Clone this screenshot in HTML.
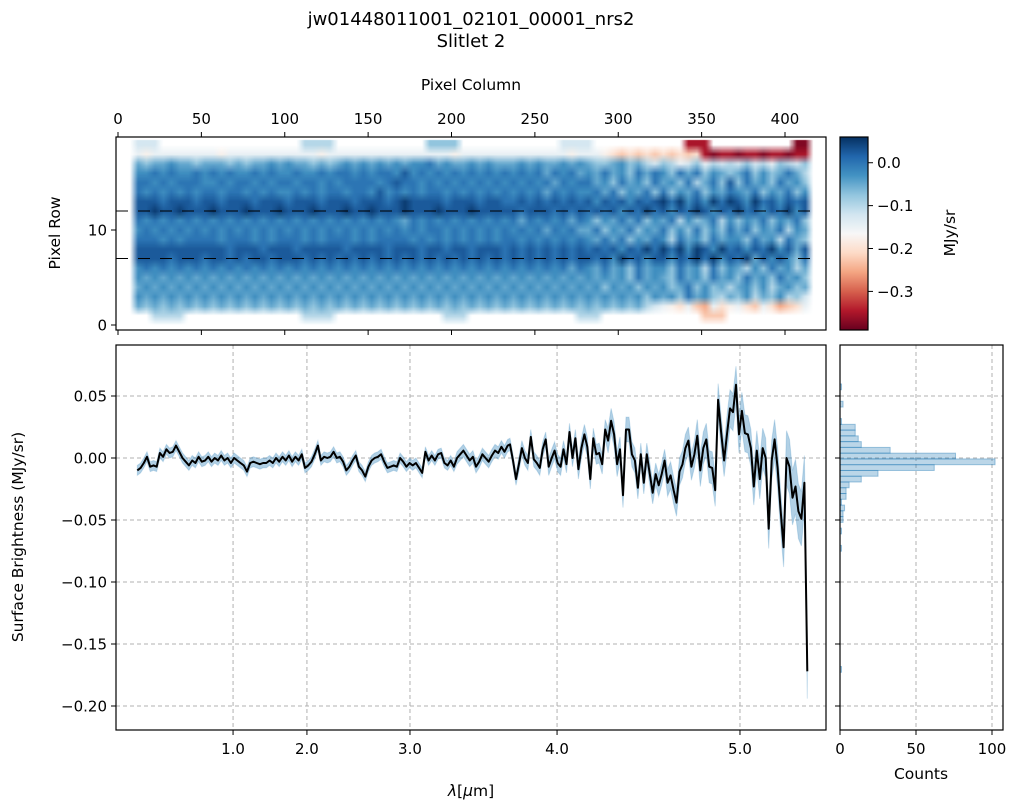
<!DOCTYPE html>
<html><head><meta charset="utf-8">
<style>
html,body{margin:0;padding:0;background:#fff;}
#wrap{position:relative;width:1011px;height:811px;overflow:hidden;font-family:"Liberation Sans","DejaVu Sans",sans-serif;}
#heat{position:absolute;left:0;top:0;}
#svg{position:absolute;left:0;top:0;}
text{font-family:"DejaVu Sans","Liberation Sans",sans-serif;fill:#000;}
</style></head>
<body>
<div id="wrap">
<canvas id="heat" width="1011" height="811"></canvas>
<svg id="svg" width="1011" height="811" xmlns="http://www.w3.org/2000/svg">
  <defs>
    <linearGradient id="cbgrad" x1="0" y1="1" x2="0" y2="0">
      <stop offset="0" stop-color="#67001f"/><stop offset="0.1" stop-color="#b2182b"/>
      <stop offset="0.2" stop-color="#d6604d"/><stop offset="0.3" stop-color="#f4a582"/>
      <stop offset="0.4" stop-color="#fddbc7"/><stop offset="0.5" stop-color="#f7f7f7"/>
      <stop offset="0.6" stop-color="#d1e5f0"/><stop offset="0.7" stop-color="#92c5de"/>
      <stop offset="0.8" stop-color="#4393c3"/><stop offset="0.9" stop-color="#2166ac"/>
      <stop offset="1" stop-color="#053061"/>
    </linearGradient>
    <clipPath id="clipMain"><rect x="116" y="345" width="710" height="385"/></clipPath>
  </defs>
  <text x="471" y="25" font-size="18" text-anchor="middle">jw01448011001_02101_00001_nrs2</text>
  <text x="471" y="47" font-size="18" text-anchor="middle">Slitlet 2</text>
  <text x="471" y="90" font-size="15.5" text-anchor="middle">Pixel Column</text>
  <text transform="translate(60,233) rotate(-90)" font-size="15.5" text-anchor="middle">Pixel Row</text>
  <text transform="translate(955,233) rotate(-90)" font-size="15.5" text-anchor="middle">MJy/sr</text>
  <text transform="translate(23,537) rotate(-90)" font-size="15.5" text-anchor="middle">Surface Brightness (MJy/sr)</text>
  <text x="471" y="796" font-size="15.5" text-anchor="middle"><tspan font-style="italic">λ</tspan>[<tspan font-style="italic">μ</tspan>m]</text>
  <text x="921" y="779" font-size="15.5" text-anchor="middle">Counts</text>
  <rect x="840" y="137" width="28" height="193" fill="url(#cbgrad)"/>
  <g id="g"></g>
</svg>
</div>
<script>
// ---------------- data ----------------
const heatLevels = "0123456789abcdefghi"; // level d -> value 0.075 - d*0.025
const heatRows = [
".."+"888"+".".repeat(17)+"7777"+".".repeat(11)+"6666"+".".repeat(12)+"8888"+".".repeat(11)+"hhh"+".".repeat(10)+"ii"+".",
".."+"9a99999999a99999999999a999999999999999a9999999999999a999"+"abcbcbcbcbcb"+"hihhihhihhihh"+".",
"..565545565556565545455656545454545443545545455545455454566546578679869787868796786.",
"..443434434343443434434434334343342434343434343434353435453546353463536456536465357.",
"..334343334434334343343343433334323343434343434343435343354635463546375362635463546.",
"..343434343343343434434343343342434343343434343434353434435364536364536453453645364.",
"..222322232232223222322232223222321222232223223323232323242324232131424131241324232.",
"..221221222122212221222122212212221222122212222232223232323242313242312423132423142.",
"..343434343434343434343434343434345343434343434353434353464535364537465374645364536.",
"..434343434343434343434343434343434343343434343434353435536453645364636463536453745.",
"..333434333343334343334343334343333434343434343343434343453536453473546354463547356.",
"..222222222223222322232222232222322232232232223232323232323242313131412413242314252.",
"..222232223223232232223232323232323232323232323232323232232413242242313142315242463.",
"..434343434343434343434343434343434343434343434343434353453546354463547364574635475.",
"..454545454545454545454545454545454545454545454545454545454546354563546354635463546.",
"..545454545454545454545454545454545454545454545454545454546454645465364657546475465.",
"..454545454545454545454545454545454545454545454545454545454545464546354675647564768.",
"..5656565656565656565656565656565656565656565656565656565656565789ab9cd9ba9bc9bdcb9.",
"...."+"7777"+".".repeat(14)+"7777"+".".repeat(13)+"777"+".".repeat(13)+"777"+".".repeat(12)+"ccc"+".".repeat(11),
".".repeat(84)
];
// spectrum values (1e-3 MJy/sr) in three column segments
const fluxMilliA = [-10,-8,-4,1,-7,-6,-7,4,1,7,4,5,10,5,0,-3,-6,-2,-4,1,-3,-2,1,-3,0,-2,2,-2,0,-4,0,-2,-4,-6,-11,-4,-3,-4,-5,-4,-4,-2,-4,0,-3,1,-2,2,-3,1,-2,3,-8,-6,-3,3,10];
const fluxMilliB = [-2,1,0,1,5,0,1,-3,-10,-7,-2,2,-7,-10,-15,-7,-2,0,1,3,-3,-8,-7,-6,-7,0,-3,-7,-4,-6,-4,-8,-12,5,-2,2,-2,3,4,-4,-6,-2,-7,0,3,6,2,-2,1,-7,-3,3,0,-3,2,6,4,9,5,10];
const fluxMilliC = [11,-2,-17,-5,8,0,-4,17,-1,-4,-8,7,15,-7,0,6,-4,-7,7,-5,21,0,16,-9,8,19,9,-17,16,3,4,-5,23,14,30,19,-5,7,-30,23,23,3,-2,-24,3,-20,3,-13,-28,-13,-22,-13,-2,-20,-14,-26,-36,-11,-5,8,14,-7,3,18,-10,8,15,-7,-8,-26,47,21,-2,20,40,37,59,19,38,20,19,8,-23,6,-17,8,0,-57,-2,15,-8,-42,-72,0,-7,-32,-23,-43,-49,-20,-172];
const segColStart = [11.6,121.7,235.1];
const segColEnd = [119.9,233.7,413.4];
const errMilli = [4,4,4,4,4,4,4,4,4,4,5,5,6,7,8,10,9,11,13,15,16,22];
const histCounts = [1,0,0,2,0,0,1,10,10,12,14,33,76,102,62,25,14,6,4,4,1,3,2,2,0,1,0,0,1,0,0,0,0,0,0,0,0,0,0,0,0,0,0,0,0,0,0,0,0,1];
const histTop = 0.0597, histBin = 0.00465;
const colTicks = [0,50,100,150,200,250,300,350,400];
const rowTicks = [0,10];
const extractRows = [12,7];
const cbTicks = [0.0,-0.1,-0.2,-0.3];
const wlTickLabels = ["1.0","2.0","3.0","4.0","5.0"];
const wlTickCols = [69,113.3,175.1,263.3,373];
const fluxTicks = [0.05,0.00,-0.05,-0.10,-0.15,-0.20];
const countTicks = [0,50,100];
// ---------------- scales ----------------
const xCol = c => 118 + 1.6675*c;
const yRow = r => 325 - 9.5*r;
const yFlux = v => 458 - 1240*v;
const xCount = n => 840 + 1.52*n;
const vmin = -0.39, vmax = 0.06;
const yCb = v => 137 + (vmax - v)/(vmax - vmin)*193;
const stops = ["#67001f","#b2182b","#d6604d","#f4a582","#fddbc7","#f7f7f7","#d1e5f0","#92c5de","#4393c3","#2166ac","#053061"].map(h=>[parseInt(h.substr(1,2),16),parseInt(h.substr(3,2),16),parseInt(h.substr(5,2),16)]);
function rdbu(v){let t=(v-vmin)/(vmax-vmin);t=Math.max(0,Math.min(1,t))*10;const i=Math.min(9,Math.floor(t)),f=t-i;const a=stops[i],b=stops[i+1];return [0,1,2].map(k=>Math.round(a[k]+(b[k]-a[k])*f));}
// ---------------- heatmap ----------------
const NC=84, NR=20;
const small=document.createElement('canvas');small.width=NC;small.height=NR;
const sctx=small.getContext('2d');const img=sctx.createImageData(NC,NR);
heatRows.forEach((row,ri)=>{for(let k=0;k<NC;k++){const ch=row[k]||'.';const d=heatLevels.indexOf(ch);const p=(ri*NC+k)*4;if(d<0){img.data[p+3]=0;continue;}const c=rdbu(0.075-d*0.025);img.data[p]=c[0];img.data[p+1]=c[1];img.data[p+2]=c[2];img.data[p+3]=255;}});
sctx.putImageData(img,0,0);
const hc=document.getElementById('heat').getContext('2d');
hc.save();hc.beginPath();hc.rect(116,137,710,193);hc.clip();
hc.imageSmoothingEnabled=true;
hc.drawImage(small,xCol(-0.5),yRow(19.5),xCol(419.5)-xCol(-0.5),yRow(-0.5)-yRow(19.5));
hc.restore();
// ---------------- svg ----------------
const NS="http://www.w3.org/2000/svg";const G=document.getElementById('g');
function mk(tag,attrs,parent){const e=document.createElementNS(NS,tag);for(const k in attrs)e.setAttribute(k,attrs[k]);(parent||G).appendChild(e);return e;}
function txt(x,y,s,anchor,size){const t=mk('text',{x:x,y:y,'font-size':size||15,'text-anchor':anchor||'middle'});t.textContent=s;return t;}
const fmt2=v=>(v<0?'\u2212':'')+Math.abs(v).toFixed(2);
const fmt1=v=>(v<0?'\u2212':'')+Math.abs(v).toFixed(1);
wlTickCols.forEach(c=>{const l=mk('line',{x1:xCol(c),x2:xCol(c),y1:345,y2:730,stroke:'#b0b0b0','stroke-dasharray':'4,3','stroke-width':1});

});
fluxTicks.forEach(v=>{const l=mk('line',{x1:116,x2:826,y1:yFlux(v),y2:yFlux(v),stroke:'#b0b0b0','stroke-dasharray':'4,3','stroke-width':1});


const h=mk('line',{x1:840,x2:1003,y1:yFlux(v),y2:yFlux(v),stroke:'#b0b0b0','stroke-dasharray':'4,3','stroke-width':1});

});
countTicks.forEach(n=>{const l=mk('line',{x1:xCount(n),x2:xCount(n),y1:345,y2:730,stroke:'#b0b0b0','stroke-dasharray':'4,3','stroke-width':1});

});
// spectrum points
const pts=[];
[fluxMilliA,fluxMilliB,fluxMilliC].forEach((arr,s)=>{const n=arr.length;const st=(segColEnd[s]-segColStart[s])/(n-1);arr.forEach((v,i)=>pts.push([segColStart[s]+i*st,v/1000]));});
const errAt=i=>errMilli[Math.min(errMilli.length-1,Math.floor(i/10))]/1000;
let up=[],lo=[],ln=[];
pts.forEach((p,i)=>{const x=xCol(p[0]).toFixed(1);up.push(x+','+yFlux(p[1]+errAt(i)).toFixed(1));lo.unshift(x+','+yFlux(p[1]-errAt(i)).toFixed(1));ln.push(x+','+yFlux(p[1]).toFixed(1));});
const band=mk('polygon',{points:up.concat(lo).join(' '),fill:'#1f77b4','fill-opacity':0.35,stroke:'#1f77b4','stroke-opacity':0.2,'clip-path':'url(#clipMain)'});


const line=mk('polyline',{points:ln.join(' '),fill:'none',stroke:'#000','stroke-width':2,'stroke-linejoin':'round','clip-path':'url(#clipMain)'});


histCounts.forEach((n,i)=>{if(n<=0)return;const y0=yFlux(histTop-i*histBin),y1=yFlux(histTop-(i+1)*histBin);
const b=mk('rect',{x:840,y:y0,width:Math.max(0.8,xCount(n)-840),height:y1-y0,fill:'#1f77b4','fill-opacity':0.3,stroke:'#1f77b4','stroke-opacity':0.4,'stroke-width':1});

});
extractRows.forEach(r=>{const l=mk('line',{x1:116,x2:817,y1:yRow(r),y2:yRow(r),stroke:'#000','stroke-width':1,'stroke-dasharray':'12,10'});

});
[[116,137,710,193,'top-panel-frame'],[840,137,28,193,'colorbar-frame'],[116,345,710,385,'spectrum-panel-frame'],[840,345,163,385,'histogram-panel-frame']].forEach(f=>{
const r=mk('rect',{x:f[0],y:f[1],width:f[2],height:f[3],fill:'none',stroke:'#000','stroke-width':1.2});

});
colTicks.forEach(c=>{mk('line',{x1:xCol(c),x2:xCol(c),y1:137,y2:132,stroke:'#000'});mk('line',{x1:xCol(c),x2:xCol(c),y1:330,y2:335,stroke:'#000'});
const t=txt(xCol(c),124,String(c));

});
rowTicks.forEach(r=>{mk('line',{x1:116,x2:111,y1:yRow(r),y2:yRow(r),stroke:'#000'});
const t=txt(107,yRow(r)+5.5,String(r),'end');

});
cbTicks.forEach(v=>{mk('line',{x1:868,x2:873,y1:yCb(v),y2:yCb(v),stroke:'#000'});
const t=txt(877,yCb(v)+5.5,fmt1(v),'start');

});
wlTickCols.forEach((c,i)=>{mk('line',{x1:xCol(c),x2:xCol(c),y1:730,y2:735,stroke:'#000'});
const t=txt(xCol(c),754,wlTickLabels[i]);

});
fluxTicks.forEach(v=>{mk('line',{x1:116,x2:111,y1:yFlux(v),y2:yFlux(v),stroke:'#000'});mk('line',{x1:840,x2:835,y1:yFlux(v),y2:yFlux(v),stroke:'#000'});
const t=txt(107,yFlux(v)+5.5,fmt2(v),'end');

});
countTicks.forEach(n=>{mk('line',{x1:xCount(n),x2:xCount(n),y1:730,y2:735,stroke:'#000'});
const t=txt(xCount(n),754,String(n));

});
</script>
</body></html>
